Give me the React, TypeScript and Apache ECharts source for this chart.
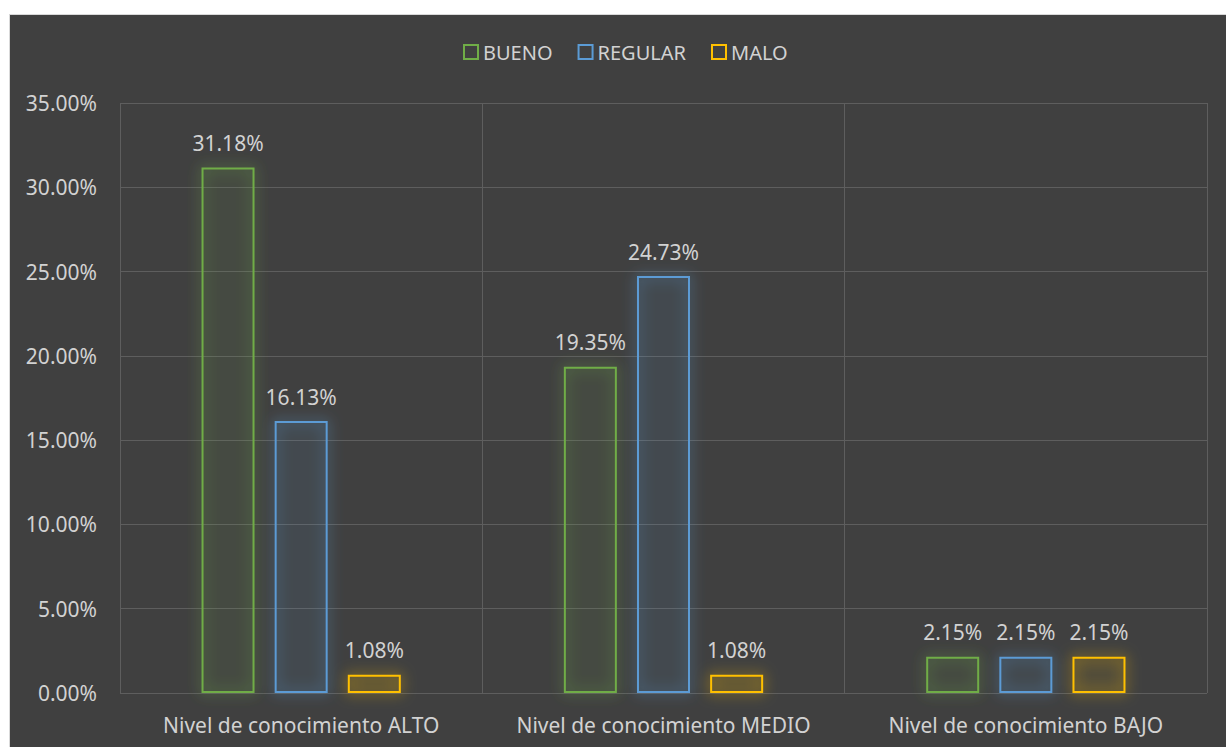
import React, { useEffect, useRef } from "react";
import * as echarts from "echarts";

const categories = [
  "Nivel de conocimiento ALTO",
  "Nivel de conocimiento MEDIO",
  "Nivel de conocimiento BAJO",
];
const seriesNames = ["BUENO", "REGULAR", "MALO"];
const bueno = [0.3118, 0.1935, 0.0215];
const regular = [0.1613, 0.2473, 0.0215];
const malo = [0.0108, 0.0108, 0.0215];
const yTicks = { min: 0, max: 0.35, interval: 0.05 };

const colors = ["#70AD47", "#5B9BD5", "#FFC000"];
const fills = ["rgba(112,173,71,0.05)", "rgba(91,155,213,0.05)", "rgba(255,192,0,0.05)"];
const glow = ["rgba(112,173,71,1)", "rgba(91,155,213,1)", "rgba(255,192,0,1)"];
const FONT = "'Noto Sans', 'Open Sans', sans-serif";
const TEXT = "#d2d2d2";

const pct = (v: number) => (v * 100).toFixed(2) + "%";

export default function App() {
  const ref = useRef<HTMLDivElement>(null);
  useEffect(() => {
    if (!ref.current) return;
    const chart = echarts.init(ref.current, undefined, { renderer: "svg" });
    const values = [bueno, regular, malo];
    chart.setOption({
      animation: false,
      backgroundColor: "#ffffff",
      graphic: [
        {
          type: "rect",
          z: -10,
          silent: true,
          shape: { x: 9.5, y: 14.5, width: 1230, height: 750 },
          style: { fill: "#404040", stroke: "#d9d9d9", lineWidth: 1 },
        },
      ],
      legend: {
        top: 42,
        left: 463,
        padding: 0,
        itemGap: 25,
        itemWidth: 14,
        itemHeight: 14,
        icon: "rect",
        textStyle: { color: TEXT, fontSize: 20, fontFamily: FONT },
        data: seriesNames.map((n, i) => ({
          name: n,
          itemStyle: {
            color: "transparent",
            borderColor: colors[i],
            borderWidth: 2,
            shadowBlur: 0,
          },
        })),
      },
      grid: { left: 120, right: 19, top: 103, bottom: 54 },
      xAxis: {
        type: "category",
        data: categories,
        axisLine: { show: false },
        axisTick: { show: false },
        axisLabel: {
          color: TEXT,
          fontSize: 21,
          fontFamily: FONT,
          margin: 21,
          interval: 0,
        },
        splitLine: {
          show: true,
          interval: 0,
          lineStyle: { color: "#5e5e5e", width: 1 },
        },
      },
      yAxis: {
        type: "value",
        min: yTicks.min,
        max: yTicks.max,
        interval: yTicks.interval,
        axisLine: { show: false },
        axisTick: { show: false },
        axisLabel: {
          color: TEXT,
          fontSize: 21,
          fontFamily: FONT,
          margin: 23,
          formatter: (v: number) => pct(v),
        },
        splitLine: { lineStyle: { color: "#5e5e5e", width: 1 } },
      },
      series: seriesNames.map((n, i) => ({
        name: n,
        type: "bar",
        data: values[i],
        barGap: "38%",
        barCategoryGap: "45%",
        itemStyle: {
          color: fills[i],
          borderColor: colors[i],
          borderWidth: 2,
          shadowBlur: 14,
          shadowColor: glow[i],
        },
        label: {
          show: true,
          position: "top",
          distance: 14,
          color: TEXT,
          fontSize: 21,
          fontFamily: FONT,
          formatter: (p: any) => pct(p.value),
        },
      })),
    });
    return () => chart.dispose();
  }, []);
  return (
    <div
      ref={ref}
      style={{ position: "fixed", left: 0, top: 0, width: 1226, height: 747 }}
    />
  );
}
